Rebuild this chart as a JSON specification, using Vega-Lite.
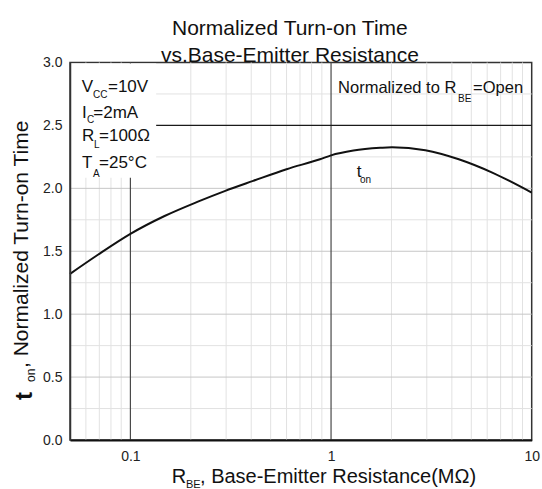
{
  "$schema": "https://vega.github.io/schema/vega-lite/v6.json",
  "width": 461.7,
  "height": 377.5,
  "autosize": {"type": "none"},
  "padding": {"left": 70, "top": 62.5, "right": 10.3, "bottom": 49},
  "background": "white",
  "config": {
    "view": {"stroke": "#333", "strokeWidth": 1.5},
    "font": "Liberation Sans",
    "text": {"font": "Liberation Sans"}
  },
  "title": {
    "text": ["Normalized Turn-on Time", "vs.Base-Emitter Resistance"],
    "fontSize": 21,
    "fontWeight": "normal",
    "font": "Liberation Sans",
    "color": "#111",
    "lineHeight": 27,
    "anchor": "middle",
    "frame": "group",
    "baseline": "bottom",
    "offset": -31.5,
    "dx": -11
  },
  "datasets": {
    "curve": [
      {"r": 0.05, "v": 1.32},
      {"r": 0.0686, "v": 1.47},
      {"r": 0.1, "v": 1.638},
      {"r": 0.148, "v": 1.78},
      {"r": 0.217, "v": 1.894},
      {"r": 0.295, "v": 1.978},
      {"r": 0.409, "v": 2.059},
      {"r": 0.6, "v": 2.152},
      {"r": 0.881, "v": 2.231},
      {"r": 1.0, "v": 2.262},
      {"r": 1.293, "v": 2.3},
      {"r": 1.758, "v": 2.322},
      {"r": 2.012, "v": 2.327},
      {"r": 2.951, "v": 2.303},
      {"r": 4.33, "v": 2.231},
      {"r": 6.36, "v": 2.125},
      {"r": 10, "v": 1.966}
    ],
    "vminor": [
      {"r": 0.06}, {"r": 0.07}, {"r": 0.08}, {"r": 0.09},
      {"r": 0.2}, {"r": 0.3}, {"r": 0.4}, {"r": 0.5}, {"r": 0.6}, {"r": 0.7}, {"r": 0.8}, {"r": 0.9},
      {"r": 2}, {"r": 3}, {"r": 4}, {"r": 5}, {"r": 6}, {"r": 7}, {"r": 8}, {"r": 9}
    ],
    "vmajor": [{"r": 0.1}, {"r": 1}],
    "hminor": [{"v": 0.25}, {"v": 0.75}, {"v": 1.25}, {"v": 1.75}, {"v": 2.25}, {"v": 2.75}],
    "hhalf": [{"v": 0.5}, {"v": 1.0}, {"v": 1.5}, {"v": 2.0}],
    "hdark": [{"v": 2.5}],
    "ann": [
      {"role": "m17", "text": "V", "r": 0.05719, "v": 2.763},
      {"role": "m17", "text": "=10V", "r": 0.07731, "v": 2.763},
      {"role": "m17", "text": "I", "r": 0.05739, "v": 2.561},
      {"role": "m17", "text": "=2mA", "r": 0.06533, "v": 2.561},
      {"role": "m17", "text": "R", "r": 0.05739, "v": 2.376},
      {"role": "m17", "text": "=100Ω", "r": 0.06976, "v": 2.376},
      {"role": "m17", "text": "T", "r": 0.05739, "v": 2.159},
      {"role": "m17", "text": "=25°C", "r": 0.06976, "v": 2.159},
      {"role": "m16", "text": "Normalized to R", "r": 1.0836, "v": 2.755},
      {"role": "m16", "text": "=Open", "r": 5.105, "v": 2.755},
      {"role": "m17", "text": "t", "r": 1.343, "v": 2.093},
      {"role": "s10", "text": "CC", "r": 0.06512, "v": 2.716},
      {"role": "s10", "text": "C", "r": 0.06074, "v": 2.517},
      {"role": "s10", "text": "L", "r": 0.06586, "v": 2.318},
      {"role": "s10", "text": "A", "r": 0.06512, "v": 2.093},
      {"role": "s10", "text": "BE", "r": 4.297, "v": 2.689},
      {"role": "s10", "text": "on", "r": 1.395, "v": 2.042},
      {"role": "xt", "text": "R", "r": 0.1607, "v": -0.342},
      {"role": "xt", "text": ", Base-Emitter Resistance(MΩ)", "r": 0.2223, "v": -0.342},
      {"role": "xs", "text": "BE", "r": 0.1893, "v": -0.381},
      {"role": "ytt", "text": "t", "r": 0.03232, "v": 0.318},
      {"role": "ys", "text": "on", "r": 0.03345, "v": 0.461},
      {"role": "yt", "text": ", Normalized Turn-on Time", "r": 0.03087, "v": 0.572}
    ]
  },
  "layer": [
    {
      "data": {"name": "vminor"},
      "mark": {"type": "rule", "stroke": "#e2e2e2", "strokeWidth": 1},
      "encoding": {
        "x": {
          "field": "r", "type": "quantitative", "title": null,
          "scale": {"type": "log", "domain": [0.05, 10], "nice": false},
          "axis": {
            "title": null, "values": [0.1, 1, 10], "format": "~g", "grid": false,
            "ticks": false, "tickSize": 0, "labelPadding": 9, "labelFontSize": 14,
            "labelColor": "#222", "labelFont": "Liberation Sans", "labelFlush": false,
            "domainColor": "#111", "domainWidth": 2, "zindex": 1
          }
        }
      }
    },
    {
      "data": {"name": "hminor"},
      "mark": {"type": "rule", "stroke": "#e2e2e2", "strokeWidth": 1},
      "encoding": {
        "y": {
          "field": "v", "type": "quantitative", "title": null,
          "scale": {"domain": [0, 3], "nice": false, "zero": true},
          "axis": {
            "title": null, "values": [0, 0.5, 1, 1.5, 2, 2.5, 3], "format": ".1f", "grid": false,
            "ticks": false, "tickSize": 0, "labelPadding": 8, "labelFontSize": 14,
            "labelColor": "#222", "labelFont": "Liberation Sans", "labelFlush": false,
            "domainColor": "#333", "domainWidth": 1.5, "zindex": 1
          }
        }
      }
    },
    {
      "data": {"name": "hhalf"},
      "mark": {"type": "rule", "stroke": "#c6c6c6", "strokeWidth": 1},
      "encoding": {"y": {"field": "v", "type": "quantitative", "title": null}}
    },
    {
      "data": {"name": "vmajor"},
      "mark": {"type": "rule", "stroke": "#4a4a4a", "strokeWidth": 1.2},
      "encoding": {"x": {"field": "r", "type": "quantitative", "title": null}}
    },
    {
      "data": {"name": "hdark"},
      "mark": {"type": "rule", "stroke": "#1a1a1a", "strokeWidth": 1.1},
      "encoding": {"y": {"field": "v", "type": "quantitative", "title": null}}
    },
    {
      "data": {"values": [{}]},
      "mark": {"type": "rect", "fill": "white", "stroke": null},
      "encoding": {
        "x": {"datum": 0.0505, "type": "quantitative"},
        "x2": {"datum": 0.1344},
        "y": {"datum": 2.085, "type": "quantitative"},
        "y2": {"datum": 2.993}
      }
    },
    {
      "data": {"name": "curve"},
      "mark": {"type": "line", "color": "#111", "strokeWidth": 2, "interpolate": "monotone"},
      "encoding": {
        "x": {"field": "r", "type": "quantitative", "title": null},
        "y": {"field": "v", "type": "quantitative", "title": null}
      }
    },
    {
      "data": {"name": "ann"},
      "transform": [{"filter": "datum.role == 'm17'"}],
      "mark": {"type": "text", "align": "left", "baseline": "alphabetic", "fontSize": 17, "color": "#111"},
      "encoding": {
        "x": {"field": "r", "type": "quantitative", "title": null},
        "y": {"field": "v", "type": "quantitative", "title": null},
        "text": {"field": "text"}
      }
    },
    {
      "data": {"name": "ann"},
      "transform": [{"filter": "datum.role == 'm16'"}],
      "mark": {"type": "text", "align": "left", "baseline": "alphabetic", "fontSize": 16.5, "color": "#111"},
      "encoding": {
        "x": {"field": "r", "type": "quantitative", "title": null},
        "y": {"field": "v", "type": "quantitative", "title": null},
        "text": {"field": "text"}
      }
    },
    {
      "data": {"name": "ann"},
      "transform": [{"filter": "datum.role == 's10'"}],
      "mark": {"type": "text", "align": "left", "baseline": "alphabetic", "fontSize": 10, "color": "#111"},
      "encoding": {
        "x": {"field": "r", "type": "quantitative", "title": null},
        "y": {"field": "v", "type": "quantitative", "title": null},
        "text": {"field": "text"}
      }
    },
    {
      "data": {"name": "ann"},
      "transform": [{"filter": "datum.role == 'xt'"}],
      "mark": {"type": "text", "align": "left", "baseline": "alphabetic", "fontSize": 20, "color": "#111"},
      "encoding": {
        "x": {"field": "r", "type": "quantitative", "title": null},
        "y": {"field": "v", "type": "quantitative", "title": null},
        "text": {"field": "text"}
      }
    },
    {
      "data": {"name": "ann"},
      "transform": [{"filter": "datum.role == 'xs'"}],
      "mark": {"type": "text", "align": "left", "baseline": "alphabetic", "fontSize": 11, "color": "#111"},
      "encoding": {
        "x": {"field": "r", "type": "quantitative", "title": null},
        "y": {"field": "v", "type": "quantitative", "title": null},
        "text": {"field": "text"}
      }
    },
    {
      "data": {"name": "ann"},
      "transform": [{"filter": "datum.role == 'ytt'"}],
      "mark": {"type": "text", "align": "left", "baseline": "alphabetic", "angle": 270, "fontSize": 24, "fontWeight": "bold", "color": "#111"},
      "encoding": {
        "x": {"field": "r", "type": "quantitative", "title": null},
        "y": {"field": "v", "type": "quantitative", "title": null},
        "text": {"field": "text"}
      }
    },
    {
      "data": {"name": "ann"},
      "transform": [{"filter": "datum.role == 'ys'"}],
      "mark": {"type": "text", "align": "left", "baseline": "alphabetic", "angle": 270, "fontSize": 12, "color": "#111"},
      "encoding": {
        "x": {"field": "r", "type": "quantitative", "title": null},
        "y": {"field": "v", "type": "quantitative", "title": null},
        "text": {"field": "text"}
      }
    },
    {
      "data": {"name": "ann"},
      "transform": [{"filter": "datum.role == 'yt'"}],
      "mark": {"type": "text", "align": "left", "baseline": "alphabetic", "angle": 270, "fontSize": 21, "color": "#111"},
      "encoding": {
        "x": {"field": "r", "type": "quantitative", "title": null},
        "y": {"field": "v", "type": "quantitative", "title": null},
        "text": {"field": "text"}
      }
    }
  ]
}
